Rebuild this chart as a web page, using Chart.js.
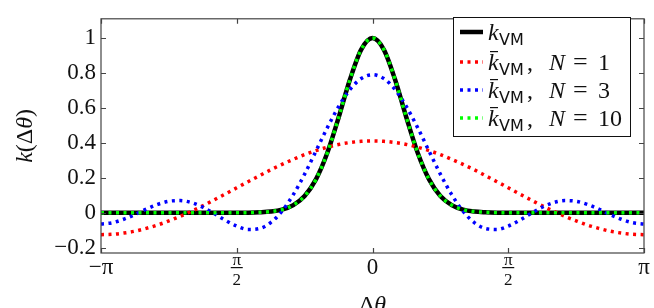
<!DOCTYPE html>
<html>
<head>
<meta charset="utf-8">
<script src="https://cdn.jsdelivr.net/npm/chart.js@4.4.0/dist/chart.umd.min.js"></script>
<style>
  html, body { margin: 0; padding: 0; background: #fff; }
  #wrap { width: 654px; height: 308px; }
</style>
</head>
<body>
<div id="wrap"><canvas id="c" width="654" height="308"></canvas></div>
<script>
// angle difference in degrees (axis is labelled in multiples of pi)
const thetaDeg = [-180, -172.5, -165, -157.5, -150, -142.5, -135, -127.5, -120, -112.5, -105, -97.5,
  -90, -82.5, -75, -67.5, -60, -52.5, -45, -37.5, -30, -22.5, -15, -7.5, 0,
  7.5, 15, 22.5, 30, 37.5, 45, 52.5, 60, 67.5, 75, 82.5, 90,
  97.5, 105, 112.5, 120, 127.5, 135, 142.5, 150, 157.5, 165, 172.5, 180];

// k_VM (solid black)
const kVM = [0, 0, 0, 0, 0, 0, 0, 0, 0, 0, 0, 0,
  0, 0.001, 0.003, 0.007, 0.018, 0.044, 0.096, 0.191, 0.342, 0.544, 0.761, 0.934, 1,
  0.934, 0.761, 0.544, 0.342, 0.191, 0.096, 0.044, 0.018, 0.007, 0.003, 0.001, 0,
  0, 0, 0, 0, 0, 0, 0, 0, 0, 0, 0, 0];

// kbar_VM, N = 1 (red dotted)
const kN1 = [-0.125, -0.123, -0.116, -0.105, -0.089, -0.070, -0.046, -0.020, 0.009, 0.040, 0.074, 0.108,
  0.143, 0.178, 0.212, 0.246, 0.277, 0.306, 0.333, 0.356, 0.375, 0.391, 0.402, 0.409, 0.411,
  0.409, 0.402, 0.391, 0.375, 0.356, 0.333, 0.306, 0.277, 0.246, 0.212, 0.178, 0.143,
  0.108, 0.074, 0.040, 0.009, -0.020, -0.046, -0.070, -0.089, -0.105, -0.116, -0.123, -0.125];

// kbar_VM, N = 3 (blue dotted)
const kN3 = [-0.064, -0.057, -0.037, -0.010, 0.021, 0.048, 0.066, 0.070, 0.058, 0.032, -0.004, -0.043,
  -0.076, -0.095, -0.090, -0.056, 0.009, 0.104, 0.221, 0.353, 0.486, 0.607, 0.705, 0.768, 0.790,
  0.768, 0.705, 0.607, 0.486, 0.353, 0.221, 0.104, 0.009, -0.056, -0.090, -0.095, -0.076,
  -0.043, -0.004, 0.032, 0.058, 0.070, 0.066, 0.048, 0.021, -0.010, -0.037, -0.057, -0.064];

// kbar_VM, N = 10 (green dotted, sits on top of the black curve)
const kN10 = [0, 0, 0, 0, 0, 0, 0, 0, 0, 0, 0, 0,
  0, 0.001, 0.003, 0.007, 0.018, 0.044, 0.096, 0.191, 0.342, 0.544, 0.761, 0.934, 1,
  0.934, 0.761, 0.544, 0.342, 0.191, 0.096, 0.044, 0.018, 0.007, 0.003, 0.001, 0,
  0, 0, 0, 0, 0, 0, 0, 0, 0, 0, 0, 0];

const yTicks = [-0.2, 0, 0.2, 0.4, 0.6, 0.8, 1];
const yTickLabels = ['\u22120.2', '0', '0.2', '0.4', '0.6', '0.8', '1'];
const xTicks = [-180, -90, 0, 90, 180];
const xTickLabels = ['\u2212\u03c0', '\u03c0/2', '0', '\u03c0/2', '\u03c0'];

const SERIF = '"Liberation Serif", "DejaVu Serif", serif';
const SANS = '"DejaVu Sans", sans-serif';

function pts(vals) {
  return thetaDeg.map((t, i) => ({ x: t, y: vals[i] }));
}

// draws a run of [text, font, dx, dy] pieces starting at x,y
function drawRun(ctx, pieces, x, y) {
  pieces.forEach(p => {
    ctx.font = p[1];
    ctx.fillText(p[0], x + p[2], y + p[3]);
  });
}

const legendRows = [
  { color: '#000000', dash: [], width: 4.5, sub: false, n: null },
  { color: '#ff0000', dash: [3, 4.5], width: 3.5, sub: true, n: '1' },
  { color: '#0000ff', dash: [3, 4.5], width: 3.5, sub: true, n: '3' },
  { color: '#00ff00', dash: [3, 4.5], width: 3.5, sub: true, n: '10' }
];

const decor = {
  id: 'decor',
  afterDraw(chart) {
    const { ctx, chartArea: a, scales: { x, y } } = chart;
    ctx.save();

    // frame
    ctx.strokeStyle = '#444';
    ctx.lineWidth = 1.2;
    ctx.strokeRect(a.left, a.top, a.right - a.left, a.bottom - a.top);

    // inward ticks on all four sides
    ctx.beginPath();
    xTicks.forEach(v => {
      const px = Math.round(x.getPixelForValue(v)) + 0.5;
      ctx.moveTo(px, a.bottom); ctx.lineTo(px, a.bottom - 5);
      ctx.moveTo(px, a.top); ctx.lineTo(px, a.top + 5);
    });
    yTicks.forEach(v => {
      const py = Math.round(y.getPixelForValue(v)) + 0.5;
      ctx.moveTo(a.left, py); ctx.lineTo(a.left + 5, py);
      ctx.moveTo(a.right, py); ctx.lineTo(a.right - 5, py);
    });
    ctx.stroke();

    // x tick labels (pi/2 written as a fraction)
    ctx.fillStyle = '#111';
    ctx.textAlign = 'center';
    ctx.textBaseline = 'middle';
    xTicks.forEach((v, i) => {
      const px = x.getPixelForValue(v);
      const lab = xTickLabels[i];
      if (lab.includes('/')) {
        const [num, den] = lab.split('/');
        ctx.font = '17px ' + SERIF;
        ctx.fillText(num, px, 261);
        ctx.fillText(den, px, 281);
        ctx.fillRect(px - 6, 267, 12, 1.2);
      } else {
        ctx.font = '23px ' + SERIF;
        ctx.fillText(lab, px, 268);
      }
    });

    // axis titles
    ctx.textAlign = 'left';
    ctx.textBaseline = 'alphabetic';
    ctx.font = '24px ' + SERIF;
    const dx = ctx.measureText('\u0394').width;
    ctx.font = 'italic 24px ' + SERIF;
    const tw = dx + ctx.measureText('\u03b8').width;
    drawRun(ctx, [['\u0394', '24px ' + SERIF, 0, 0], ['\u03b8', 'italic 24px ' + SERIF, dx, 0]],
      (x.getPixelForValue(0)) - tw / 2, 312);

    ctx.save();
    ctx.translate(32, (a.top + a.bottom) / 2);
    ctx.rotate(-Math.PI / 2);
    const parts = [['k', 'italic'], ['(\u0394', ''], ['\u03b8', 'italic'], [')', '']];
    let tot = 0;
    parts.forEach(p => { ctx.font = (p[1] ? 'italic ' : '') + '24px ' + SERIF; tot += ctx.measureText(p[0]).width; });
    let cx = -tot / 2;
    parts.forEach(p => {
      ctx.font = (p[1] ? 'italic ' : '') + '24px ' + SERIF;
      ctx.fillText(p[0], cx, 0);
      cx += ctx.measureText(p[0]).width;
    });
    ctx.restore();

    // legend
    const lx = 453.5, ly = 17.5, lw = 177, lh = 119;
    ctx.fillStyle = '#fff';
    ctx.fillRect(lx, ly, lw, lh);
    ctx.strokeStyle = '#111';
    ctx.lineWidth = 1;
    ctx.strokeRect(lx, ly, lw, lh);
    const rowY = [32, 62, 90, 118];
    legendRows.forEach((r, i) => {
      const yy = rowY[i];
      ctx.strokeStyle = r.color;
      ctx.lineWidth = r.width;
      ctx.setLineDash(r.dash);
      ctx.beginPath();
      ctx.moveTo(460, yy); ctx.lineTo(483, yy);
      ctx.stroke();
      ctx.setLineDash([]);
      ctx.fillStyle = '#111';
      const bx = 488, by = yy + 8;
      const pieces = [['k', 'italic 24px ' + SERIF, 0, 0], ['VM', '16px ' + SANS, 11, 5]];
      if (r.n) {
        pieces.push([',', '24px ' + SERIF, 39, 0]);
        pieces.push(['N', 'italic 24px ' + SERIF, 61, 0]);
        pieces.push(['=', '26px ' + SERIF, 85, 0]);
        pieces.push([r.n, '24px ' + SERIF, 110, 0]);
      }
      drawRun(ctx, pieces, bx, by);
      if (r.sub) ctx.fillRect(bx + 2, by - 19, 8, 1.2);
    });

    ctx.restore();
  }
};

const common = { pointRadius: 0, fill: false, cubicInterpolationMode: 'monotone', borderCapStyle: 'butt' };

new Chart(document.getElementById('c'), {
  type: 'line',
  data: {
    datasets: [
      { ...common, label: 'k_VM', data: pts(kVM), borderColor: '#000000', borderWidth: 4.5, order: 4 },
      { ...common, label: 'kbar_VM, N = 1', data: pts(kN1), borderColor: '#ff0000', borderWidth: 3.5, borderDash: [3, 4.5], order: 3 },
      { ...common, label: 'kbar_VM, N = 3', data: pts(kN3), borderColor: '#0000ff', borderWidth: 3.5, borderDash: [3, 4.5], order: 2 },
      { ...common, label: 'kbar_VM, N = 10', data: pts(kN10), borderColor: '#00ff00', borderWidth: 3.5, borderDash: [3, 4.5], order: 1 }
    ]
  },
  options: {
    responsive: false,
    animation: false,
    devicePixelRatio: 1,
    layout: { padding: { left: 0, right: 10, top: 10, bottom: 55 } },
    plugins: { legend: { display: false }, tooltip: { enabled: false } },
    scales: {
      x: { type: 'linear', min: -180, max: 180, display: false },
      y: {
        min: -0.23, max: 1.11,
        grid: { display: false, drawTicks: false },
        border: { display: false },
        afterBuildTicks: s => { s.ticks = yTicks.map(v => ({ value: v })); },
        afterFit: s => { s.width = 101; },
        ticks: {
          autoSkip: false,
          padding: 5,
          color: '#111',
          font: { family: SERIF, size: 23 },
          callback: v => {
            const i = yTicks.findIndex(t => Math.abs(t - v) < 1e-6);
            return i >= 0 ? yTickLabels[i] : '';
          }
        }
      }
    }
  },
  plugins: [decor]
});
</script>
</body>
</html>
